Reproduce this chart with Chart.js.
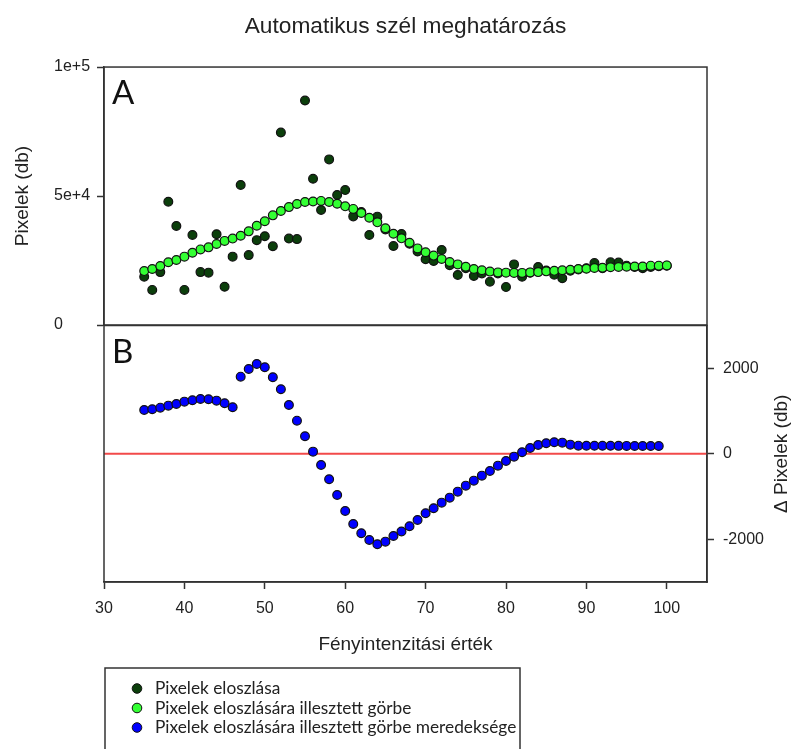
<!DOCTYPE html>
<html>
<head>
<meta charset="utf-8">
<script src="https://cdn.jsdelivr.net/npm/chart.js@4.4.1/dist/chart.umd.min.js"></script>
<style>
  html, body { margin: 0; padding: 0; background: #fff; }
  #wrap { position: relative; width: 793px; height: 749px; overflow: hidden; background: #fff; }
  #panelTop { position: absolute; left: 0; top: 0; width: 793px; height: 345px; }
  #panelBottom { position: absolute; left: 0; top: 300px; width: 793px; height: 449px; }
</style>
</head>
<body>
<div id="wrap">
  <canvas id="panelTop" width="793" height="345"></canvas>
  <canvas id="panelBottom" width="793" height="449"></canvas>
</div>
<script>
// Light intensity values (x) for the measured and fitted pixel counts
const intensity = [35, 36, 37, 38, 39, 40, 41, 42, 43, 44, 45, 46, 47, 48, 49, 50, 51, 52, 53, 54,
  55, 56, 57, 58, 59, 60, 61, 62, 63, 64, 65, 66, 67, 68, 69, 70, 71, 72, 73, 74,
  75, 76, 77, 78, 79, 80, 81, 82, 83, 84, 85, 86, 87, 88, 89, 90, 91, 92, 93, 94,
  95, 96, 97, 98, 99, 100];

// Measured pixel counts per intensity
const pixelCounts = [18700, 13600, 20500, 47800, 38400, 13600, 34900, 20500, 20300, 35200,
  14800, 26500, 54300, 27100, 32900, 34400, 30500, 74600, 33500, 33300,
  87000, 56700, 44600, 64200, 50400, 52300, 42100, 43800, 34900, 42000,
  37000, 30600, 35300, 31500, 28500, 25500, 24800, 29100, 23200, 19400,
  22000, 19000, 20000, 16800, 20000, 14700, 23500, 18700, 20300, 22500,
  21100, 19500, 18100, 21000, 21500, 22000, 24000, 22000, 24300, 24200,
  23000, 22500, 22000, 22500, 22800, 23000];

// Curve fitted to the pixel counts
const fittedCounts = [20900, 21700, 22900, 24300, 25200, 26500, 28000, 29300, 30100, 31400,
  32600, 33500, 34600, 36300, 38500, 40200, 42500, 44200, 45700, 46900,
  47700, 47900, 48100, 47700, 47000, 46000, 45000, 43400, 41600, 39800,
  37500, 35400, 33600, 31900, 29700, 28200, 26900, 25600, 24400, 23500,
  22600, 21700, 21200, 20700, 20400, 20300, 20200, 20200, 20400, 20500,
  20800, 21000, 21200, 21400, 21700, 21800, 22100, 22200, 22400, 22500,
  22600, 22700, 22700, 23000, 23000, 23100];

// Slope of the fitted curve
const slopeIntensity = [35, 36, 37, 38, 39, 40, 41, 42, 43, 44, 45, 46, 47, 48, 49, 50, 51, 52, 53, 54,
  55, 56, 57, 58, 59, 60, 61, 62, 63, 64, 65, 66, 67, 68, 69, 70, 71, 72, 73, 74,
  75, 76, 77, 78, 79, 80, 81, 82, 83, 84, 85, 86, 87, 88, 89, 90, 91, 92, 93, 94,
  95, 96, 97, 98, 99];
const slopeValues = [1025, 1041, 1078, 1125, 1165, 1219, 1251, 1282, 1275, 1242,
  1181, 1088, 1803, 1983, 2100, 2023, 1789, 1509, 1141, 774,
  409, 49, -262, -596, -964, -1338, -1642, -1860, -2016, -2117,
  -2056, -1923, -1817, -1696, -1548, -1392, -1275, -1144, -1027, -886,
  -746, -629, -512, -402, -278, -168, -68, 35, 136, 206,
  246, 269, 260, 213, 189, 188, 187, 186, 186, 185,
  184, 183, 182, 181, 180];

// Axis ranges and ticks
const intensityRange = [30, 105];
const intensityTicks = [30, 40, 50, 60, 70, 80, 90, 100];
const countRange = [0, 100000];
const countTicks = [0, 50000, 100000];
const countTickLabels = ['0', '5e+4', '1e+5'];
const slopeRange = [-3000, 3000];
const slopeTicks = [-2000, 0, 2000];

const seriesLabels = [
  'Pixelek eloszlása',
  'Pixelek eloszlására illesztett görbe',
  'Pixelek eloszlására illesztett görbe meredeksége'
];
const seriesColors = ['#0b3f0b', '#33ff33', '#0000ff'];

const SANS = "'Liberation Sans', Arial, sans-serif";
const HUMANIST = "Lato, 'Open Sans', sans-serif";
const INK = '#222';
const AXIS = '#333';

Chart.defaults.font.family = SANS;
Chart.defaults.color = INK;

const toPoints = (xs, ys) => xs.map((x, i) => ({ x: x, y: ys[i] }));

// Box around each plot area
const frame = {
  id: 'frame',
  afterDraw(chart) {
    const { ctx, chartArea: a } = chart;
    ctx.save();
    ctx.strokeStyle = AXIS;
    ctx.lineWidth = 1.5;
    ctx.strokeRect(a.left, a.top, a.right - a.left, a.bottom - a.top);
    ctx.restore();
  }
};

// Panel letter in the upper-left corner of the plot area
const panelLetter = {
  id: 'panelLetter',
  afterDraw(chart, args, opts) {
    const { ctx, chartArea: a } = chart;
    ctx.save();
    ctx.fillStyle = '#111';
    ctx.font = '33px ' + HUMANIST;
    ctx.textAlign = 'left';
    ctx.textBaseline = 'alphabetic';
    ctx.fillText(opts.text, a.left + 8, a.top + 37);
    ctx.restore();
  }
};

// Right-hand axis title, read from bottom to top
const rightTitle = {
  id: 'rightTitle',
  afterDraw(chart, args, opts) {
    const { ctx, chartArea: a } = chart;
    ctx.save();
    ctx.translate(782, (a.top + a.bottom) / 2);
    ctx.rotate(-Math.PI / 2);
    ctx.fillStyle = INK;
    ctx.font = '19px ' + SANS;
    ctx.textAlign = 'center';
    ctx.textBaseline = 'middle';
    ctx.fillText(opts.text, 0, 0);
    ctx.restore();
  }
};

// Boxed legend under the x axis title
const boxedLegend = {
  id: 'boxedLegend',
  afterDraw(chart) {
    const { ctx, chartArea: a } = chart;
    const boxTop = a.bottom + 86;
    ctx.save();
    ctx.strokeStyle = AXIS;
    ctx.lineWidth = 1.5;
    ctx.strokeRect(a.left + 1, boxTop, 415, 120);
    ctx.font = '17.3px ' + HUMANIST;
    ctx.textAlign = 'left';
    ctx.textBaseline = 'middle';
    seriesLabels.forEach((label, i) => {
      const y = boxTop + 20.5 + i * 19.5;
      ctx.beginPath();
      ctx.arc(a.left + 33, y, 4.8, 0, Math.PI * 2);
      ctx.fillStyle = seriesColors[i];
      ctx.fill();
      ctx.lineWidth = 1;
      ctx.strokeStyle = '#111';
      ctx.stroke();
      ctx.fillStyle = INK;
      ctx.fillText(label, a.left + 51, y);
    });
    ctx.restore();
  }
};

const pointStyle = (color) => ({
  backgroundColor: color,
  borderColor: '#111',
  borderWidth: 1.2,
  pointRadius: 4.4,
  pointHoverRadius: 4.4,
  showLine: false
});

// Panel A: pixel counts and the fitted curve
new Chart(document.getElementById('panelTop'), {
  type: 'scatter',
  data: {
    datasets: [
      Object.assign({ label: seriesLabels[1], data: toPoints(intensity, fittedCounts), order: 0 }, pointStyle(seriesColors[1])),
      Object.assign({ label: seriesLabels[0], data: toPoints(intensity, pixelCounts), order: 1 }, pointStyle(seriesColors[0]))
    ]
  },
  options: {
    responsive: false,
    animation: false,
    layout: { padding: { left: 54, right: 86, top: 0, bottom: 20 } },
    plugins: {
      legend: { display: false },
      tooltip: { enabled: false },
      title: {
        display: true,
        text: 'Automatikus szél meghatározás',
        fullSize: false,
        color: INK,
        font: { family: SANS, size: 22.7, weight: 'normal' },
        padding: { top: 13.6, bottom: 26.2 }
      },
      panelLetter: { text: 'A' }
    },
    scales: {
      x: { type: 'linear', min: intensityRange[0], max: intensityRange[1], display: false },
      y: {
        type: 'linear',
        position: 'left',
        min: countRange[0],
        max: countRange[1],
        afterBuildTicks: (s) => { s.ticks = countTicks.map(v => ({ value: v })); },
        afterFit: (s) => { s.width = 50; },
        ticks: {
          crossAlign: 'far',
          padding: 0,
          color: INK,
          font: { size: 16 },
          callback: (v) => countTickLabels[countTicks.indexOf(v)]
        },
        grid: { drawOnChartArea: false, drawTicks: true, tickLength: 7, tickColor: AXIS, tickWidth: 1.5 },
        border: { display: true, color: AXIS, width: 1.5 },
        title: { display: true, text: 'Pixelek (db)', color: INK, font: { size: 19 }, padding: { top: -43, bottom: 0 } }
      }
    }
  },
  plugins: [frame, panelLetter]
});

// Panel B: slope of the fitted curve
new Chart(document.getElementById('panelBottom'), {
  type: 'scatter',
  data: {
    datasets: [
      Object.assign({ label: seriesLabels[2], data: toPoints(slopeIntensity, slopeValues), order: 0 }, pointStyle(seriesColors[2])),
      {
        type: 'line',
        label: 'zero',
        data: toPoints(intensityRange, [0, 0]),
        borderColor: '#f24a4a',
        borderWidth: 2,
        pointRadius: 0,
        order: 1
      }
    ]
  },
  options: {
    responsive: false,
    animation: false,
    layout: { padding: { left: 104, right: 0, top: 25.5, bottom: 0 } },
    plugins: {
      legend: { display: false },
      tooltip: { enabled: false },
      panelLetter: { text: 'B' },
      rightTitle: { text: 'Δ Pixelek (db)' }
    },
    scales: {
      x: {
        type: 'linear',
        position: 'bottom',
        min: intensityRange[0],
        max: intensityRange[1],
        afterBuildTicks: (s) => { s.ticks = intensityTicks.map(v => ({ value: v })); },
        afterFit: (s) => { s.height = 167; },
        ticks: { color: INK, font: { size: 16 }, padding: 10, maxRotation: 0 },
        grid: { drawOnChartArea: false, drawTicks: true, tickLength: 7, tickColor: AXIS, tickWidth: 1.5 },
        border: { display: true, color: AXIS, width: 1.5 },
        title: { display: true, text: 'Fényintenzitási érték', color: INK, font: { size: 19 }, padding: { top: 0, bottom: 92.6 } }
      },
      y: {
        type: 'linear',
        position: 'right',
        min: slopeRange[0],
        max: slopeRange[1],
        afterBuildTicks: (s) => { s.ticks = slopeTicks.map(v => ({ value: v })); },
        afterFit: (s) => { s.width = 86; },
        ticks: { color: INK, font: { size: 16 }, padding: 9, callback: (v) => String(v) },
        grid: { drawOnChartArea: false, drawTicks: true, tickLength: 7, tickColor: AXIS, tickWidth: 1.5 },
        border: { display: true, color: AXIS, width: 1.5 }
      }
    }
  },
  plugins: [frame, panelLetter, rightTitle, boxedLegend]
});
</script>
</body>
</html>
